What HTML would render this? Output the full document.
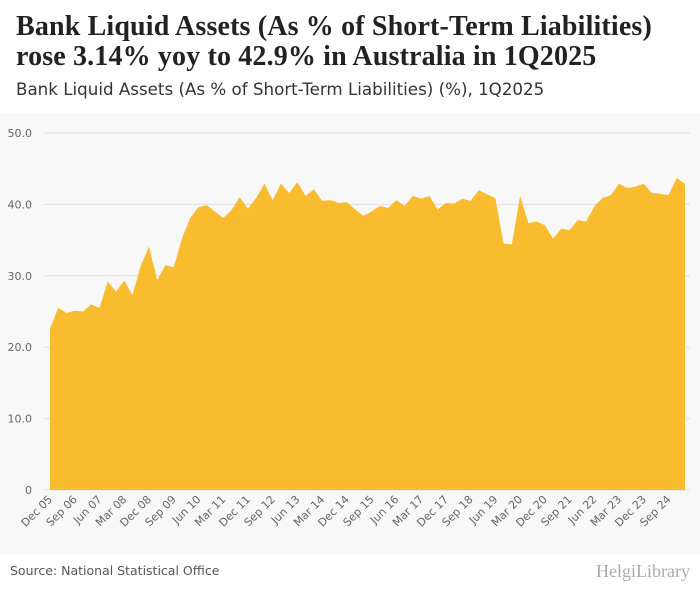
<!DOCTYPE html>
<html><head><meta charset="utf-8"><style>
body{margin:0;width:700px;height:596px;background:#fff;font-family:"Liberation Sans",sans-serif;overflow:hidden;position:relative}
#title{position:absolute;left:16px;top:12px;font-family:"Liberation Serif",serif;font-weight:bold;font-size:28px;letter-spacing:0.15px;line-height:30px;color:#222;white-space:nowrap}
#sub{position:absolute;left:16px;top:79px;font-family:"DejaVu Sans",sans-serif;font-size:16.7px;color:#333;white-space:nowrap}
#chart{position:absolute;left:0;top:113px}
#src{position:absolute;left:10px;top:563px;font-family:"DejaVu Sans",sans-serif;font-size:12.5px;color:#555}
#logo{position:absolute;right:10px;top:561px;font-family:"Liberation Serif",serif;font-size:18px;color:#aaa}
</style></head><body>
<div id="title">Bank Liquid Assets (As % of Short-Term Liabilities)<br>rose 3.14% yoy to 42.9% in Australia in 1Q2025</div>
<div id="sub">Bank Liquid Assets (As % of Short-Term Liabilities) (%), 1Q2025</div>
<svg id="chart" width="700" height="442"></svg>
<div id="src">Source: National Statistical Office</div>
<div id="logo">HelgiLibrary</div>
<script>
const values=[22.6,25.5,24.8,25.1,25.0,26.0,25.5,29.2,27.8,29.3,27.3,31.4,34.1,29.4,31.5,31.2,35.2,38.1,39.6,39.9,39.0,38.1,39.2,41.0,39.4,40.9,42.9,40.6,42.9,41.6,43.1,41.2,42.1,40.5,40.6,40.2,40.3,39.3,38.4,39.0,39.8,39.5,40.6,39.8,41.2,40.8,41.2,39.3,40.2,40.1,40.8,40.5,42.0,41.4,40.9,34.5,34.4,41.2,37.4,37.6,37.1,35.2,36.6,36.4,37.8,37.6,39.7,40.9,41.3,42.9,42.3,42.5,42.9,41.6,41.5,41.3,43.7,42.9];
const yTicks=[0,10,20,30,40,50];
const yTickLabels=["0","10.0","20.0","30.0","40.0","50.0"];
const xLabels=["Dec 05","Sep 06","Jun 07","Mar 08","Dec 08","Sep 09","Jun 10","Mar 11","Dec 11","Sep 12","Jun 13","Mar 14","Dec 14","Sep 15","Jun 16","Mar 17","Dec 17","Sep 18","Jun 19","Mar 20","Dec 20","Sep 21","Jun 22","Mar 23","Dec 23","Sep 24"];
const NS="http://www.w3.org/2000/svg";
const svg=document.getElementById('chart');
const OY=113;
const x0=50,x1=685,yb=490-OY,yt=133-OY;
const X=i=>x0+i*(x1-x0)/(values.length-1);
const Y=v=>yb+(yt-yb)*v/50;
function mk(t,a){const e=document.createElementNS(NS,t);for(const k in a)e.setAttribute(k,a[k]);svg.appendChild(e);return e;}
const bg=mk('rect',{x:0,y:0,width:700,height:442,fill:'#f8f8f8'});


yTicks.forEach((t,k)=>{
 const l=mk('line',{x1:44,x2:690,y1:Y(t),y2:Y(t),stroke:'#e0e0e0','stroke-width':1});
 
 
 const tx=mk('text',{x:32,y:Y(t)+4,'text-anchor':'end','font-size':11,fill:'#666','font-family':'DejaVu Sans,sans-serif'});
 tx.textContent=yTickLabels[k];
 
 
});
let d='M'+X(0)+','+Y(0);
values.forEach((v,i)=>d+='L'+X(i)+','+Y(v));
d+='L'+X(values.length-1)+','+Y(0)+'Z';
const area=mk('path',{d:d,fill:'#f9bc2f'});


xLabels.forEach((s,k)=>{
 const x=X(k*3)+3,y=yb+10;
 const tx=mk('text',{x:x,y:y,'text-anchor':'end','font-size':11,fill:'#666','font-family':'DejaVu Sans,sans-serif',transform:`rotate(-45 ${x} ${y})`});
 tx.textContent=s;
 
 
});
</script>
</body></html>
